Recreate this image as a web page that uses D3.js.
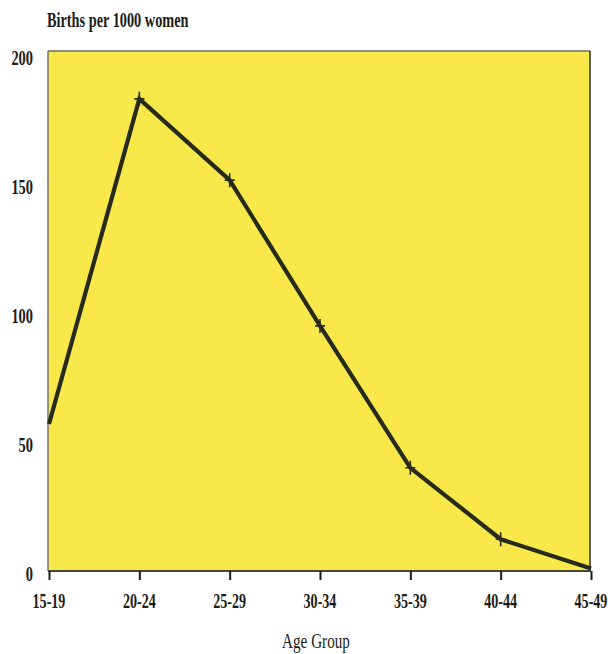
<!DOCTYPE html>
<html>
<head>
<meta charset="utf-8">
<script src="https://cdn.jsdelivr.net/npm/d3@7/dist/d3.min.js"></script>
<style>
  html, body { margin: 0; padding: 0; background: #ffffff; }
  svg { display: block; }
</style>
</head>
<body>
<svg id="chart" width="608" height="654"></svg>
<script>
// ---- data ----
const ageGroups = ["15-19", "20-24", "25-29", "30-34", "35-39", "40-44", "45-49"];
const birthsPer1000 = [57, 183, 151.5, 95, 40, 12.3, 1];
const yTicks = [0, 50, 100, 150, 200];
const yTitle = "Births per 1000 women";
const xTitle = "Age Group";

// ---- layout ----
const W = 608, H = 654;
const plot = { left: 48, right: 590, top: 51, bottom: 571 };
const svg = d3.select("#chart");

const x = d3.scalePoint().domain(ageGroups).range([49, 591]);
const y = d3.scaleLinear().domain([0, 200]).range([571, 55]);

const serif = "'Liberation Serif', 'DejaVu Serif', serif";
const ink = "#1c1c16";

function condensedText(g, str, px, py, opts) {
  const t = g.append("text")
    .attr("transform", `translate(${px},${py}) scale(${opts.sx},1)`)
    .attr("text-anchor", opts.anchor || "start")
    .attr("font-family", serif)
    .attr("font-size", opts.size)
    .attr("font-weight", opts.weight || "bold")
    .attr("fill", ink)
    .text(str);
  return t;
}

// plot background
svg.append("rect")
  .attr("x", plot.left).attr("y", plot.top)
  .attr("width", plot.right - plot.left).attr("height", plot.bottom - plot.top)
  .attr("fill", "#f8e84a");

// borders
svg.append("line").attr("x1", plot.left).attr("x2", plot.right).attr("y1", plot.top).attr("y2", plot.top)
  .attr("stroke", "#6e6e5e").attr("stroke-width", 1.6);
svg.append("line").attr("x1", plot.left).attr("x2", plot.left).attr("y1", plot.top).attr("y2", plot.bottom)
  .attr("stroke", "#7a7a6c").attr("stroke-width", 1.6);
svg.append("line").attr("x1", plot.right).attr("x2", plot.right).attr("y1", plot.top).attr("y2", plot.bottom)
  .attr("stroke", "#3a3a2e").attr("stroke-width", 1.6);

// x axis (bottom line + ticks)
const xAxis = d3.axisBottom(x).tickSize(9).tickSizeOuter(0).tickFormat("");
const gx = svg.append("g").attr("transform", `translate(0,${plot.bottom})`).call(xAxis);
gx.select(".domain").attr("d", `M${plot.left},0H${plot.right + 1}`).attr("stroke", "#4a4a34").attr("stroke-width", 2);
gx.selectAll(".tick line").attr("stroke", ink).attr("stroke-width", 2);

// x tick labels
const gxl = svg.append("g");
ageGroups.forEach(a => {
  condensedText(gxl, a, x(a), 608, { sx: 0.64, size: 22, anchor: "middle" });
});

// y tick labels
const gyl = svg.append("g");
yTicks.forEach(v => {
  condensedText(gyl, String(v), 33, y(v) + 9.5, { sx: 0.72, size: 20, anchor: "end" });
});

// titles
condensedText(svg, yTitle, 47, 27, { sx: 0.65, size: 22, anchor: "start" });
condensedText(svg, xTitle, 316, 648, { sx: 0.69, size: 22, anchor: "middle", weight: "normal" });

// data line
const pts = ageGroups.map((a, i) => [x(a), y(birthsPer1000[i])]);
svg.append("path")
  .attr("d", d3.line()(pts))
  .attr("fill", "none")
  .attr("stroke", "#262b1c")
  .attr("stroke-width", 4.2)
  .attr("stroke-linejoin", "miter");

// plus markers
svg.append("g").selectAll("path.mk")
  .data(pts.slice(1, -1))
  .join("path")
  .attr("class", "mk")
  .attr("transform", d => `translate(${d[0]},${d[1]})`)
  .attr("d", "M-5,0H5M0,-7V7")
  .attr("stroke", "#262b1c")
  .attr("stroke-width", 1.6);
</script>
</body>
</html>
